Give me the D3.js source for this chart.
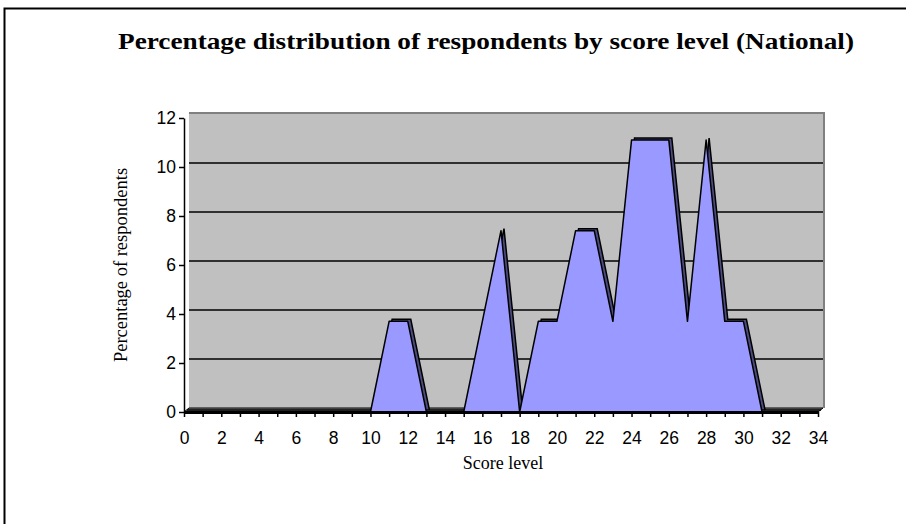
<!DOCTYPE html>
<html>
<head>
<meta charset="utf-8">
<script src="https://cdn.jsdelivr.net/npm/d3@7"></script>
<style>
  body { margin: 0; background: #fff; }
  svg text { fill: #000; }
</style>
</head>
<body>
<svg id="chart" width="906" height="524"></svg>
<script>
// score levels 0..34 and the share of respondents at each
const scoreLevels = d3.range(0, 35);
const percentages = [
  0, 0, 0, 0, 0, 0, 0, 0, 0, 0,
  0, 3.7, 3.7, 0, 0, 0, 3.7, 7.4, 0, 3.7,
  3.7, 7.4, 7.4, 3.7, 11.1, 11.1, 11.1, 3.7, 11.1, 3.7,
  3.7, 0, 0, 0, 0
];
const yTicks = [0, 2, 4, 6, 8, 10, 12];
const xLabelTicks = d3.range(0, 35, 2);

const titleText = "Percentage distribution of respondents by score level (National)";
const xTitle = "Score level";
const yTitle = "Percentage of respondents";

const svg = d3.select("#chart");
const depth = { dx: 5, dy: -4 };   // 3-D offset of back wall
const sdepth = { dx: 3, dy: -2 };  // thickness of the area series

const x = d3.scaleLinear().domain([0, 34]).range([184, 818]);
const y = d3.scaleLinear().domain([0, 12]).range([412, 118]);

const data = scoreLevels.map((s, i) => ({ s, v: percentages[i] }));

// outer frame
svg.append("rect")
  .attr("x", 4.5).attr("y", 8.5)
  .attr("width", 920).attr("height", 540)
  .attr("fill", "none").attr("stroke", "#000").attr("stroke-width", 2);

// title
svg.append("text")
  .attr("x", 486).attr("y", 49)
  .attr("text-anchor", "middle")
  .attr("font-family", "Liberation Serif, Times New Roman, serif")
  .attr("font-weight", "bold")
  .attr("font-size", 24)
  .attr("textLength", 736)
  .attr("lengthAdjust", "spacingAndGlyphs")
  .text(titleText);

// back wall
const wallL = x(0) + depth.dx, wallR = x(34) + depth.dx;
const wallT = y(12) + depth.dy, wallB = y(0) + depth.dy;
svg.append("rect")
  .attr("x", wallL).attr("y", wallT - 2)
  .attr("width", wallR - wallL + 2).attr("height", wallB - wallT + 2)
  .attr("fill", "#808080");
svg.append("rect")
  .attr("x", wallL).attr("y", wallT)
  .attr("width", wallR - wallL).attr("height", wallB - wallT)
  .attr("fill", "#c0c0c0");

// gridlines on the wall
svg.append("g").selectAll("line")
  .data(yTicks.filter(t => t > 0 && t < 12))
  .join("line")
  .attr("x1", wallL).attr("x2", wallR)
  .attr("y1", d => y(d) + depth.dy).attr("y2", d => y(d) + depth.dy)
  .attr("stroke", "#000").attr("stroke-width", 1.5);

// floor
svg.append("path")
  .attr("d", `M${x(0)},${y(0)} L${wallL},${wallB} L${wallR},${wallB} L${x(34)},${y(0)} Z`)
  .attr("fill", "#808080").attr("stroke", "#000").attr("stroke-width", 1);

// area series: back face, then front face
const area = d3.area().x(d => x(d.s)).y0(y(0)).y1(d => y(d.v));
const line = d3.line().x(d => x(d.s)).y(d => y(d.v));

svg.append("path")
  .datum(data)
  .attr("transform", `translate(${sdepth.dx},${sdepth.dy})`)
  .attr("d", area)
  .attr("fill", "#4c4c80")
  .attr("stroke", "#000").attr("stroke-width", 1.5);

svg.append("path")
  .datum(data)
  .attr("d", area)
  .attr("fill", "#9999ff");

svg.append("path")
  .datum(data)
  .attr("d", line)
  .attr("fill", "none")
  .attr("stroke", "#000").attr("stroke-width", 1.5)
  .attr("stroke-linejoin", "round");

// y axis
const yAxis = svg.append("g")
  .attr("transform", `translate(${x(0)},0)`)
  .call(d3.axisLeft(y).tickValues(yTicks).tickSize(5).tickSizeOuter(0));
yAxis.select(".domain").attr("stroke-width", 1.5);
yAxis.selectAll(".tick line").attr("stroke-width", 1.5);
yAxis.selectAll(".tick text")
  .attr("x", -8)
  .attr("font-family", "Liberation Sans, Arial, sans-serif")
  .attr("font-size", 17.5);

// x axis
const xAxis = svg.append("g")
  .attr("transform", `translate(0,${y(0)})`)
  .call(d3.axisBottom(x).tickValues(scoreLevels).tickSize(5).tickSizeOuter(0)
    .tickFormat(d => xLabelTicks.includes(d) ? d : ""));
xAxis.select(".domain").attr("stroke-width", 3);
xAxis.selectAll(".tick line").attr("stroke-width", 1.5);
xAxis.selectAll(".tick text")
  .attr("y", 20)
  .attr("font-family", "Liberation Sans, Arial, sans-serif")
  .attr("font-size", 17.5);

// axis titles
svg.append("text")
  .attr("x", (x(0) + x(34)) / 2 + 2).attr("y", 469)
  .attr("text-anchor", "middle")
  .attr("font-family", "Liberation Serif, Times New Roman, serif")
  .attr("font-size", 18)
  .text(xTitle);

svg.append("text")
  .attr("transform", `translate(127,${(y(0) + y(12)) / 2}) rotate(-90)`)
  .attr("text-anchor", "middle")
  .attr("font-family", "Liberation Serif, Times New Roman, serif")
  .attr("font-size", 18.5)
  .text(yTitle);
</script>
</body>
</html>
